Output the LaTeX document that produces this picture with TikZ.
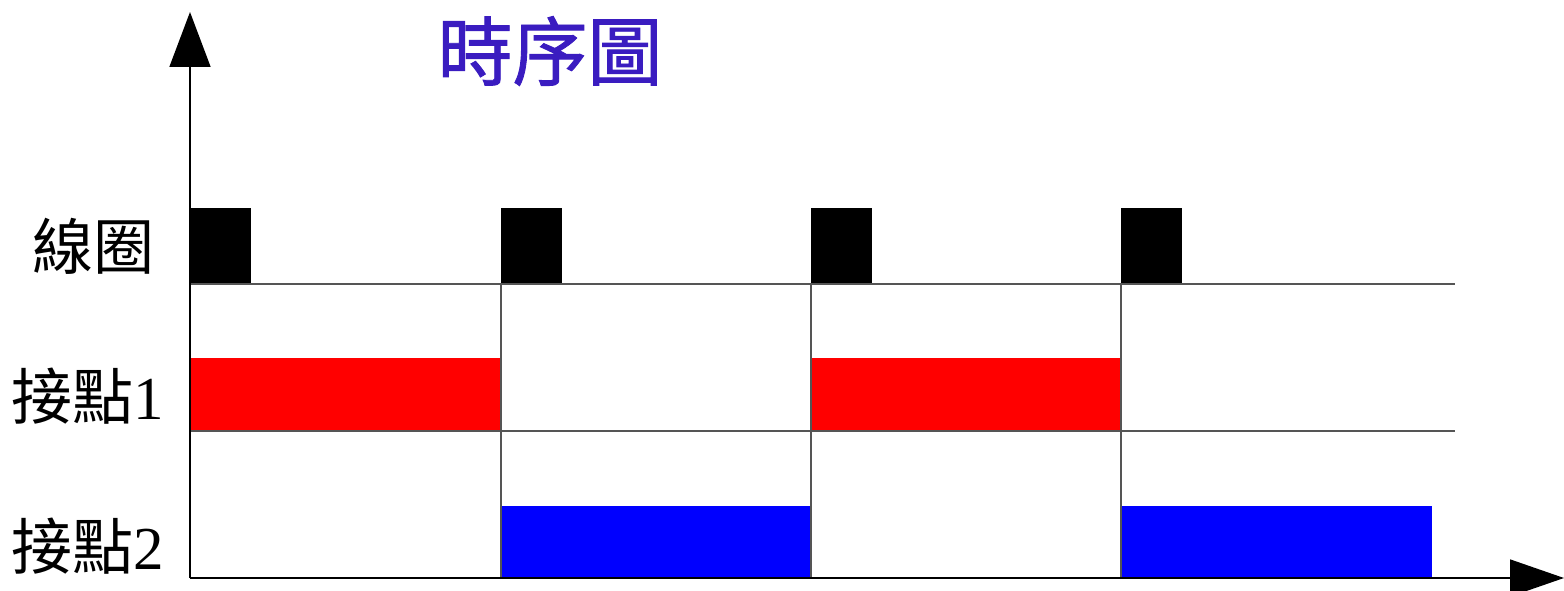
\documentclass[tikz,border=0pt]{standalone}
\usepackage{fontspec}
\usetikzlibrary{arrows.meta}
\newfontfamily\cjk{Noto Sans CJK TC}
\newfontfamily\cjktitle{Noto Sans CJK TC}[FakeBold=1.2]
\newfontfamily\digits{Liberation Serif}
\definecolor{titleblue}{RGB}{58,28,192}
\definecolor{gridgray}{RGB}{85,85,85}
\tikzset{
  axis/.style={line width=1.6pt, black},
  gridline/.style={line width=1.2pt, gridgray},
  coil/.style={fill=black},
  c1/.style={fill=red},
  c2/.style={fill=blue},
  lbl/.style={inner sep=0pt, font=\cjk\fontsize{61}{61}\selectfont},
}
\begin{document}
\begin{tikzpicture}[x=1pt,y=-1pt]
\useasboundingbox (0,0) rectangle (1564,591);
% coordinates
\coordinate (o) at (190,578);
\coordinate (ytip) at (190,12);
\coordinate (xtip) at (1564,578);
% boxes
\foreach \x in {190,501,811,1121} \fill[coil] (\x,208) rectangle ++(61,76);
\fill[c1] (190,358) rectangle (501,431);
\fill[c1] (811,358) rectangle (1121,431);
\fill[c2] (501,506) rectangle (811,578);
\fill[c2] (1121,506) rectangle (1432,578);
% grid lines
\draw[gridline] (190,284) -- (1455,284);
\draw[gridline] (190,431) -- (1455,431);
\foreach \x in {501,811,1121} \draw[gridline] (\x,284) -- (\x,578);
% axes
\draw[axis, -{Triangle[length=55pt,width=41pt]}] (o) -- (ytip);
\draw[axis, -{Triangle[length=54pt,width=37pt]}] (o) -- (xtip);
% labels
\node[lbl] (coil) at (93,246) {線圈};
\node[lbl] (k1) at (88,396) {接點{\digits 1}};
\node[lbl] (k2) at (88,546) {接點{\digits 2}};
\node[inner sep=0pt, text=titleblue, font=\cjktitle\fontsize{75}{75}\selectfont] (title) at (550,51) {時序圖};
\end{tikzpicture}
\end{document}
